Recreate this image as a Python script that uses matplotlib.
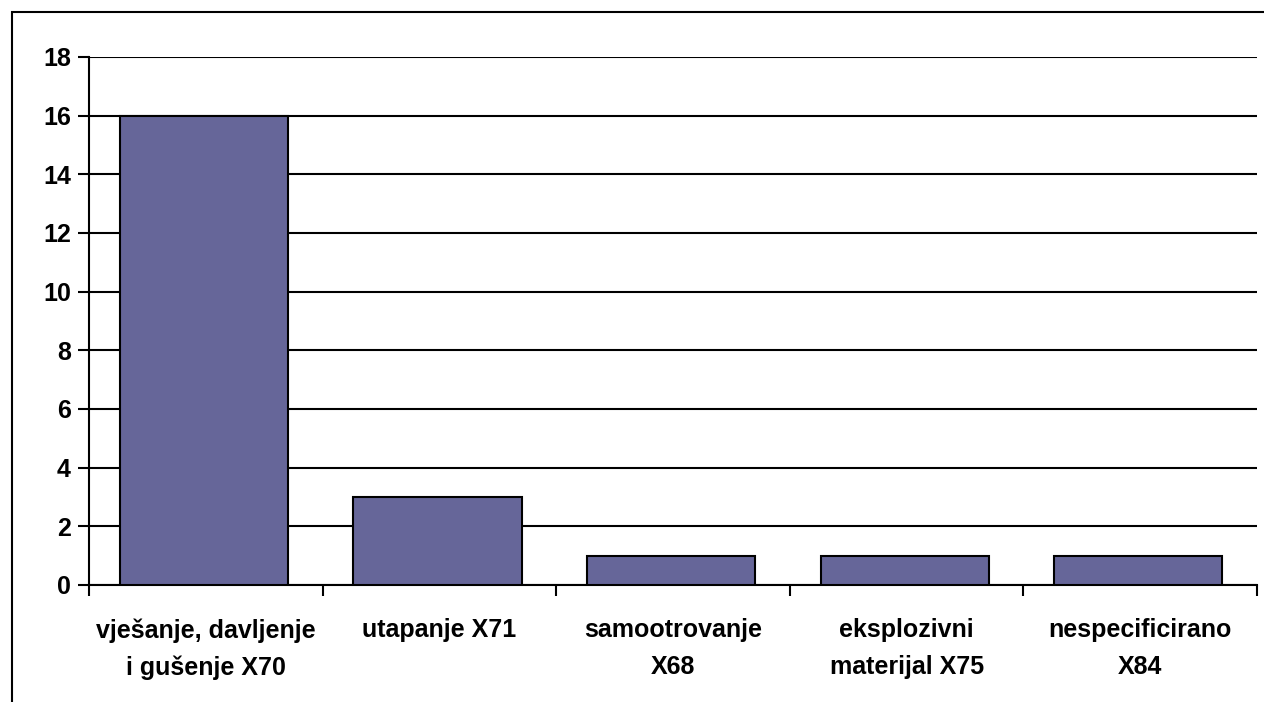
import matplotlib
matplotlib.use("Agg")
import matplotlib.pyplot as plt
from matplotlib.patches import Rectangle
import numpy as np

categories = ["vješanje, davljenje\ni gušenje X70", "utapanje X71", "samootrovanje\nX68",
              "eksplozivni\nmaterijal X75", "nespecificirano\nX84"]
values = [16, 3, 1, 1, 1]
yticks = [0, 2, 4, 6, 8, 10, 12, 14, 16, 18]

plt.rcParams['font.family'] = ['Liberation Sans', 'DejaVu Sans']

fig = plt.figure(figsize=(12.64, 7.02), dpi=100)
fig.patch.set_facecolor('white')
fig.patches.append(Rectangle((12/1264, -0.1), 1.2, 1 - 12/702 + 0.1, transform=fig.transFigure,
                             fill=False, edgecolor='black', linewidth=1.5))

ax = fig.add_axes([89/1264, 1 - 585/702, (1257 - 89)/1264, (585 - 57)/702])
x = np.arange(len(categories))
ax.bar(x - 0.008, values, width=0.72, color='#666699', edgecolor='black', linewidth=1.5, zorder=3)
ax.set_xlim(-0.5, len(categories) - 0.5)
ax.set_ylim(0, 18)
ax.set_yticks(yticks)
ax.set_yticklabels([str(v) for v in yticks], fontsize=18, fontweight='bold')
ax.yaxis.grid(True, color='black', linewidth=1.5, zorder=0)
ax.set_axisbelow(True)

ax.set_xticks(x)
ax.set_xticklabels(categories, fontsize=18, fontweight='bold', linespacing=1.65)
ax.tick_params(axis='x', which='major', length=0, pad=24)
ax.set_xticks(np.arange(len(categories) + 1) - 0.5, minor=True)
ax.tick_params(axis='x', which='minor', length=8, width=1.5, direction='out')
ax.tick_params(axis='y', length=8, width=1.5, pad=5)

for s in ['top', 'right']:
    ax.spines[s].set_visible(False)
ax.spines['left'].set_linewidth(1.5)
ax.spines['bottom'].set_linewidth(1.5)

fig.savefig("out.png", dpi=100)
